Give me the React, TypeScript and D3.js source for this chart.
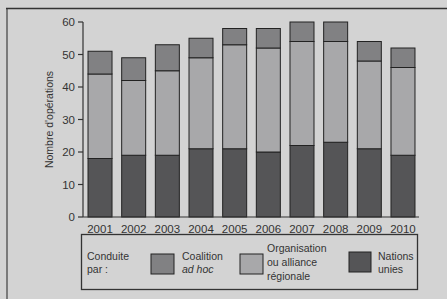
import * as d3 from "d3";

const years = ["2001", "2002", "2003", "2004", "2005", "2006", "2007", "2008", "2009", "2010"];
// segment values per year
const nationsUnies = [18, 19, 19, 21, 21, 20, 22, 23, 21, 19];
const regionale = [26, 23, 26, 28, 32, 32, 32, 31, 27, 27];
const coalition = [7, 7, 8, 6, 5, 6, 6, 6, 6, 6];
const yTicks = [0, 10, 20, 30, 40, 50, 60];

const seriesKeys = ["nu", "reg", "coal"];
const colors: Record<string, string> = { nu: "#555557", reg: "#a8a8aa", coal: "#818183" };

const W = 447;
const H = 299;
const font = "'Liberation Sans', Arial, sans-serif";
const ink = "#333";

export default function App() {
  const x = d3.scaleBand().domain(years).range([83, 420]).paddingInner(0.287).paddingOuter(0.149);
  const y = d3.scaleLinear().domain([0, 60]).range([217, 22]);

  const table = years.map((yr, i) => ({ year: yr, nu: nationsUnies[i], reg: regionale[i], coal: coalition[i] }));
  const stacked = d3.stack<any>().keys(seriesKeys)(table);

  return (
    <div style={{ position: "absolute", left: 0, top: 0 }}>
      <svg width={W} height={H} style={{ display: "block" }} fontFamily={font}>
        <rect width={W} height={H} fill="#d3d3d3" />
        {/* frame */}
        <line x1={7} x2={7} y1={8} y2={H} stroke="#7a7a7a" strokeWidth={2} />
        <line x1={6} x2={W} y1={8.5} y2={8.5} stroke="#333" strokeWidth={1.5} />

        {/* bars */}
        {stacked.map((s) => (
          <g key={s.key} fill={colors[s.key]} stroke="#222" strokeWidth={1}>
            {s.map((d, i) => (
              <rect
                key={i}
                x={x(years[i])!}
                width={x.bandwidth()}
                y={y(d[1])}
                height={y(d[0]) - y(d[1])}
              />
            ))}
          </g>
        ))}

        {/* y axis */}
        <line x1={83} x2={83} y1={y(60)} y2={y(0)} stroke={ink} strokeWidth={1.2} />
        {yTicks.map((t) => (
          <g key={t}>
            <line x1={78} x2={83} y1={y(t)} y2={y(t)} stroke={ink} strokeWidth={1.2} />
            <text x={75} y={y(t)} dy="0.35em" textAnchor="end" fontSize={11.5} fill={ink}>
              {t}
            </text>
          </g>
        ))}
        <text
          transform={`translate(49,${(y(0) + y(60)) / 2}) rotate(-90)`}
          textAnchor="middle"
          dy="0.35em"
          fontSize={10.5}
          fill={ink}
        >
          Nombre d'opérations
        </text>

        {/* x axis */}
        <line x1={83} x2={419} y1={y(0)} y2={y(0)} stroke={ink} strokeWidth={1.2} />
        {years.map((yr) => (
          <text key={yr} x={x(yr)! + x.bandwidth() / 2} y={229} dy="0.35em" textAnchor="middle" fontSize={11.5} fill={ink}>
            {yr}
          </text>
        ))}

        {/* legend */}
        <rect x={81.5} y={234.5} width={336} height={55} fill="none" stroke={ink} strokeWidth={1.3} />
        <g fontSize={10.5} fill={ink}>
          <text x={87} y={256} dy="0.35em">Conduite</text>
          <text x={87} y={269.5} dy="0.35em">par :</text>

          <rect x={151} y={254} width={23} height={20} fill={colors.coal} stroke="#222" />
          <text x={182} y={256} dy="0.35em">Coalition</text>
          <text x={182} y={269.5} dy="0.35em" fontStyle="italic">ad hoc</text>

          <rect x={240} y={254} width={23} height={20} fill={colors.reg} stroke="#222" />
          <text x={267} y={248} dy="0.35em">Organisation</text>
          <text x={267} y={262} dy="0.35em">ou alliance</text>
          <text x={267} y={276} dy="0.35em">régionale</text>

          <rect x={349} y={252} width={22} height={20} fill={colors.nu} stroke="#222" />
          <text x={378} y={256} dy="0.35em">Nations</text>
          <text x={378} y={269.5} dy="0.35em">unies</text>
        </g>
      </svg>
    </div>
  );
}
